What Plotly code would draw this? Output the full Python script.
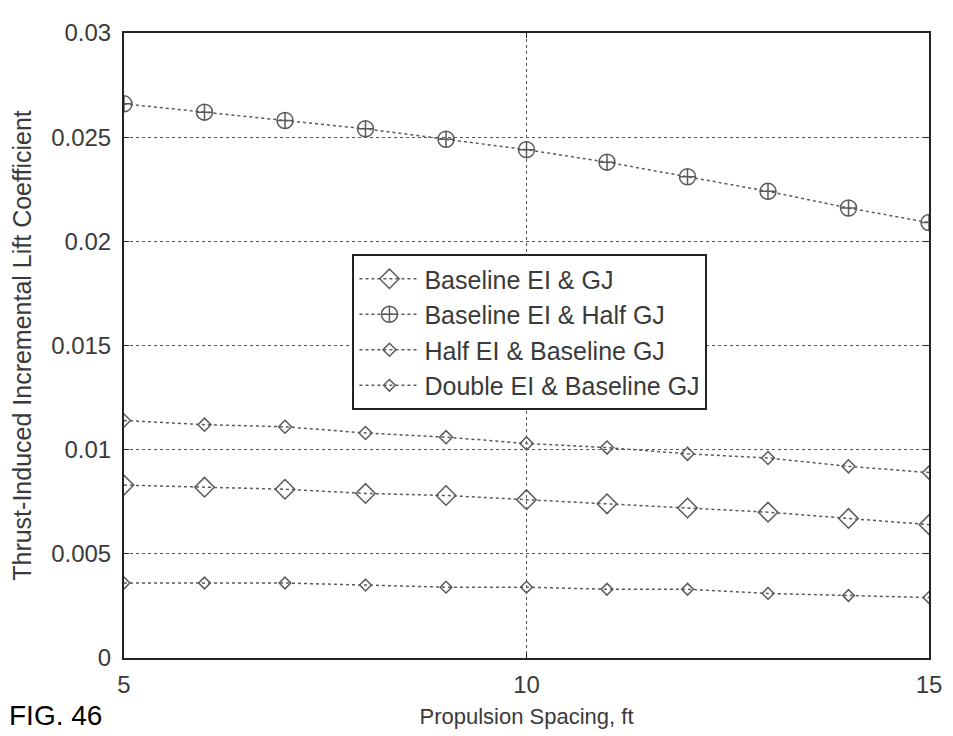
import plotly.graph_objects as go

spacing_ft = [5, 6, 7, 8, 9, 10, 11, 12, 13, 14, 15]

baseline_ei_gj = [0.0083, 0.0082, 0.0081, 0.0079, 0.0078, 0.0076, 0.0074, 0.0072, 0.0070, 0.0067, 0.0064]
baseline_ei_half_gj = [0.0266, 0.0262, 0.0258, 0.0254, 0.0249, 0.0244, 0.0238, 0.0231, 0.0224, 0.0216, 0.0209]
half_ei_baseline_gj = [0.0114, 0.0112, 0.0111, 0.0108, 0.0106, 0.0103, 0.0101, 0.0098, 0.0096, 0.0092, 0.0089]
double_ei_baseline_gj = [0.0036, 0.0036, 0.0036, 0.0035, 0.0034, 0.0034, 0.0033, 0.0033, 0.0031, 0.0030, 0.0029]

series_names = [
    "Baseline EI & GJ",
    "Baseline EI & Half GJ",
    "Half EI & Baseline GJ",
    "Double EI & Baseline GJ",
]

y_ticks = [0, 0.005, 0.01, 0.015, 0.02, 0.025, 0.03]
y_tick_labels = ["0", "0.005", "0.01", "0.015", "0.02", "0.025", "0.03"]
x_ticks = [5, 10, 15]

FONT = "Liberation Sans"
GREY = "#5a5a5a"
TEXT = "#3a3a3a"

# the page body keeps its default 8px margin, so the figure is 8px smaller
W, H = 945, 728
ML, MR, MT, MB = 116, 15, 11, 78
PW, PH = W - ML - MR, H - MT - MB

styles = [
    dict(symbol="diamond-open", size=15),
    dict(symbol="circle-cross-open", size=16),
    dict(symbol="diamond-open", size=10),
    dict(symbol="diamond-open", size=9),
]

fig = go.Figure()
for i, (name, ys) in enumerate(zip(series_names, [baseline_ei_gj, baseline_ei_half_gj,
                                                   half_ei_baseline_gj, double_ei_baseline_gj])):
    fig.add_trace(go.Scatter(
        x=spacing_ft, y=ys, name=name, mode="lines+markers",
        legendgroup=f"g{i}",
        line=dict(color=GREY, width=1.5, dash="dot"),
        marker=dict(color=GREY, line=dict(color=GREY, width=1.5), **styles[i]),
    ))

# figure label in the bottom-left corner
fig.add_annotation(
    text="FIG. 46", xref="paper", yref="paper", x=-ML / PW, y=-MB / PH,
    xanchor="left", yanchor="bottom", xshift=-2, yshift=1, showarrow=False,
    font=dict(family=FONT, size=28, color="black"),
)

fig.update_layout(
    width=W,
    height=H,
    margin=dict(l=ML, r=MR, t=MT, b=MB),
    paper_bgcolor="white",
    plot_bgcolor="white",
    font=dict(family=FONT, size=24, color=TEXT),
    showlegend=True,
    legend=dict(
        x=(347 - ML) / PW, y=(650 - 237) / PH, xanchor="left", yanchor="top",
        bgcolor="white", bordercolor="#222", borderwidth=2,
        font=dict(family=FONT, size=25, color=TEXT),
        tracegroupgap=0, itemwidth=60,
    ),
)
fig.update_xaxes(
    range=[5, 15], tickvals=x_ticks, ticks="inside", ticklen=5, tickcolor="#222",
    showline=True, linecolor="#222", linewidth=2, mirror="ticks",
    showgrid=True, gridcolor="#555", gridwidth=1, griddash="dot", zeroline=False,
    title=dict(text="Propulsion Spacing, ft", standoff=12, font=dict(size=22)),
    tickfont=dict(size=24), ticklabelstandoff=4, ticklabeloverflow="allow",
)
fig.update_yaxes(
    range=[0, 0.03], tickvals=y_ticks, ticktext=y_tick_labels, ticks="inside", ticklen=5,
    tickcolor="#222", showline=True, linecolor="#222", linewidth=2, mirror="ticks",
    showgrid=True, gridcolor="#555", gridwidth=1, griddash="dot", zeroline=False,
    title=dict(text="Thrust-Induced Incremental Lift Coefficient", standoff=12, font=dict(size=25)),
    tickfont=dict(size=24), ticklabelstandoff=6, ticklabeloverflow="allow",
)

fig.write_html("out.html")
